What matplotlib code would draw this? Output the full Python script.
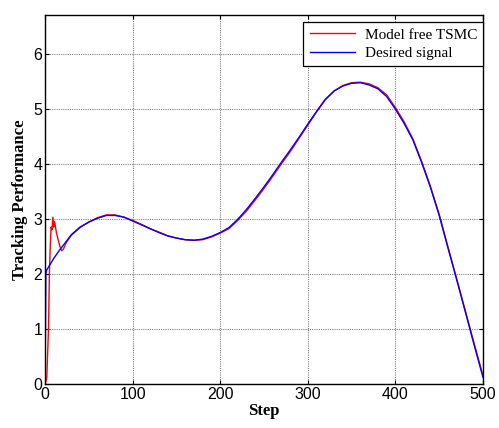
import matplotlib.pyplot as plt

# ===================== data =====================
step_ref = [0, 1, 2, 10, 17, 20, 30, 40, 50, 60, 70, 80, 90, 100, 110, 120, 130,
            140, 150, 160, 170, 180, 190, 200, 210, 220, 230, 240, 250, 260,
            270, 280, 290, 300, 310, 320, 330, 340, 350, 360, 370, 380, 390,
            400, 410, 420, 430, 440, 450, 460, 470, 480, 490, 500]
desired = [0, 2.0, 2.07, 2.28, 2.44, 2.5, 2.71, 2.85, 2.94, 3.01, 3.06, 3.06,
           3.03, 2.96, 2.89, 2.82, 2.75, 2.69, 2.65, 2.62, 2.61, 2.63, 2.68,
           2.75, 2.84, 2.99, 3.17, 3.37, 3.58, 3.80, 4.03, 4.25, 4.48, 4.72,
           4.95, 5.17, 5.32, 5.41, 5.46, 5.47, 5.43, 5.36, 5.22, 4.99, 4.73,
           4.43, 4.02, 3.57, 3.06, 2.47, 1.89, 1.30, 0.70, 0.12]

step_tsmc = [0, 2, 4, 5, 6, 7, 8, 9, 10, 11, 12, 13, 15, 17, 19, 21, 24, 30,
             40, 50, 60, 70, 80, 90, 100, 110, 120, 130, 140, 150, 160, 170,
             180, 190, 200, 210, 220, 230, 240, 250, 260, 270, 280, 290, 300,
             310, 320, 330, 340, 350, 360, 370, 380, 390, 400, 410, 420, 430,
             440, 450, 460, 470, 480, 490, 500]
tsmc = [0, 0.1, 1.0, 2.0, 2.5, 2.85, 2.8, 3.03, 2.85, 2.95, 2.85, 2.75, 2.62,
        2.5, 2.42, 2.45, 2.56, 2.7, 2.84, 2.94, 3.02, 3.07, 3.07, 3.03, 2.97,
        2.9, 2.82, 2.76, 2.69, 2.65, 2.62, 2.61, 2.62, 2.67, 2.74, 2.82, 2.97,
        3.14, 3.34, 3.55, 3.77, 4.0, 4.22, 4.46, 4.7, 4.94, 5.16, 5.32, 5.42,
        5.47, 5.48, 5.45, 5.38, 5.25, 5.02, 4.76, 4.45, 4.04, 3.59, 3.08, 2.49,
        1.91, 1.32, 0.73, 0.15]

# ===================== plot =====================
fig = plt.figure(figsize=(4.99, 4.28), dpi=100)
ax = fig.add_axes([45 / 499, 1 - 384 / 428, 438 / 499, 369 / 428])

ax.plot(step_tsmc, tsmc, c='red', lw=1.0, label='Model free TSMC')
ax.plot(step_ref, desired, c='blue', lw=1.0, label='Desired signal')

ax.set_xlim(0, 500)
ax.set_ylim(0, 6.7)
ax.set_xticks(range(0, 501, 100))
ax.set_yticks(range(0, 7))
ax.grid(True, ls=(0, (1, 1)), c='gray', lw=0.8)
ax.tick_params(direction='in', top=True, right=True, length=3, labelsize=11.5, pad=2)
for lab in ax.get_xticklabels() + ax.get_yticklabels():
    lab.set_family('Liberation Sans')
for s in ax.spines.values():
    s.set_linewidth(1.0)

ax.set_xlabel('Step', family='Liberation Serif', fontweight='bold', fontsize=12, labelpad=1)
ax.set_ylabel('Tracking Performance', family='Liberation Serif', fontweight='bold', fontsize=12, labelpad=4)

leg = ax.legend(loc='upper right', bbox_to_anchor=(1.0, 1 - 7 / 369),
                prop={'family': 'Liberation Serif', 'size': 11},
                fancybox=False, edgecolor='black', framealpha=1,
                borderaxespad=0, handlelength=3.0, borderpad=0.4,
                labelspacing=0.3, handletextpad=0.6)
leg.get_frame().set_linewidth(0.9)

plt.savefig('out.png', dpi=100)
